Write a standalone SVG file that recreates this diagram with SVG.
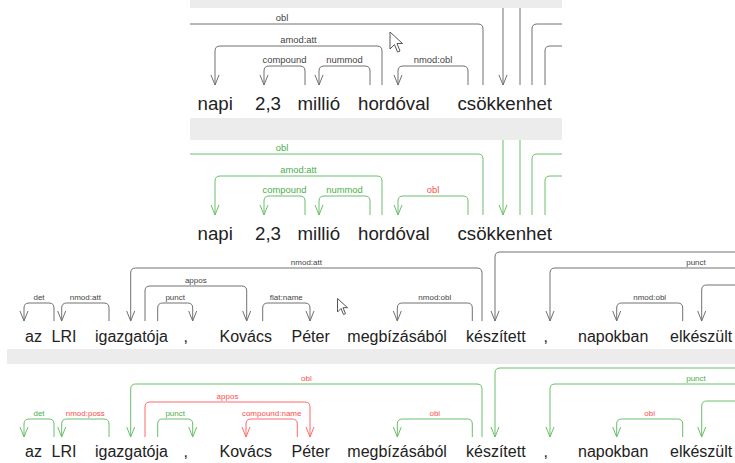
<svg xmlns="http://www.w3.org/2000/svg" width="735" height="463" viewBox="0 0 735 463">
<style>
.bg{fill:#ececec}
.w1{font-family:"Liberation Sans",Arial,sans-serif;font-size:18.7px;fill:#222}
.w2{font-family:"Liberation Sans",Arial,sans-serif;font-size:16px;fill:#222}
.l1{font-family:"Liberation Sans",Arial,sans-serif;font-size:9.4px;text-anchor:middle}
.l2{font-family:"Liberation Sans",Arial,sans-serif;font-size:8px;text-anchor:middle}
.lg{fill:#444}.lgr{fill:#4cae4c}.lr{fill:#ff4d4d}
path.a{fill:none;stroke-width:1}
.g{stroke:#707070}.gr{stroke:#6abf69}.r{stroke:#ff6b6b}
.g.m{marker-end:url(#mg)}.gr.m{marker-end:url(#mgr)}.r.m{marker-end:url(#mr)}
</style>
<defs>
<marker id="mg" viewBox="-11 -5 12 10" refX="0" refY="0" markerWidth="12" markerHeight="10" markerUnits="userSpaceOnUse" orient="auto" overflow="visible"><path d="M-10,-4 L0,0 L-10,4" fill="none" stroke="#707070"/></marker>
<marker id="mgr" viewBox="-11 -5 12 10" refX="0" refY="0" markerWidth="12" markerHeight="10" markerUnits="userSpaceOnUse" orient="auto" overflow="visible"><path d="M-10,-4 L0,0 L-10,4" fill="none" stroke="#6abf69"/></marker>
<marker id="mr" viewBox="-11 -5 12 10" refX="0" refY="0" markerWidth="12" markerHeight="10" markerUnits="userSpaceOnUse" orient="auto" overflow="visible"><path d="M-10,-4 L0,0 L-10,4" fill="none" stroke="#ff6b6b"/></marker>
</defs>
<rect width="735" height="463" fill="#fff"/>
<rect class="bg" x="190" y="0" width="372" height="8"/>
<rect class="bg" x="190" y="118" width="372" height="22"/>
<rect class="bg" x="7" y="349" width="728" height="15"/>

<!-- Panel 1 (top, gray) -->
<g id="p1-words">
<g id="p1-napi"><text class="w1" x="197.5" y="110">napi</text></g>
<g id="p1-23"><text class="w1" x="255" y="110">2,3</text></g>
<g id="p1-millio"><text class="w1" x="297.5" y="110">millió</text></g>
<g id="p1-hordoval"><text class="w1" x="358" y="110">hordóval</text></g>
<g id="p1-csokkenhet"><text class="w1" x="457.5" y="110">csökkenhet</text></g>
</g>
<g id="p1-connectors">
<path class="a g" d="M190,24 H478 Q483,24 483,29 V85"/>
<path class="a g m" d="M382,85 V51 Q382,46 377,46 H220 Q215,46 215,51 V85"/>
<path class="a g m" d="M305,85 V71 Q305,66 300,66 H269 Q264,66 264,71 V85"/>
<path class="a g m" d="M370,85 V71 Q370,66 365,66 H324 Q319,66 319,71 V85"/>
<path class="a g m" d="M468,85 V71 Q468,66 463,66 H403 Q398,66 398,71 V85"/>
<path class="a g m" d="M503,8 V85"/>
<path class="a g" d="M520,8 V85"/>
<path class="a g" d="M532,85 V29 Q532,24 537,24 H562"/>
<path class="a g" d="M545,85 V51 Q545,46 550,46 H562"/>
<text class="l1 lg" x="282" y="20.5">obl</text>
<text class="l1 lg" x="298.5" y="42.5">amod:att</text>
<text class="l1 lg" x="284.5" y="62.5">compound</text>
<text class="l1 lg" x="344.5" y="62.5">nummod</text>
<text class="l1 lg" x="433" y="62.5">nmod:obl</text>
</g>

<!-- Panel 2 (top, green) -->
<g id="p2-words">
<g id="p2-napi"><text class="w1" x="197.5" y="240">napi</text></g>
<g id="p2-23"><text class="w1" x="255" y="240">2,3</text></g>
<g id="p2-millio"><text class="w1" x="297.5" y="240">millió</text></g>
<g id="p2-hordoval"><text class="w1" x="358" y="240">hordóval</text></g>
<g id="p2-csokkenhet"><text class="w1" x="457.5" y="240">csökkenhet</text></g>
</g>
<g id="p2-connectors">
<path class="a gr" d="M190,154 H478 Q483,154 483,159 V215"/>
<path class="a gr m" d="M382,215 V181 Q382,176 377,176 H220 Q215,176 215,181 V215"/>
<path class="a gr m" d="M305,215 V201 Q305,196 300,196 H269 Q264,196 264,201 V215"/>
<path class="a gr m" d="M370,215 V201 Q370,196 365,196 H324 Q319,196 319,201 V215"/>
<path class="a gr m" d="M468,215 V201 Q468,196 463,196 H403 Q398,196 398,201 V215"/>
<path class="a gr m" d="M503,140 V215"/>
<path class="a gr" d="M520,140 V215"/>
<path class="a gr" d="M532,215 V159 Q532,154 537,154 H562"/>
<path class="a gr" d="M545,215 V181 Q545,176 550,176 H562"/>
<text class="l1 lgr" x="282" y="150.5">obl</text>
<text class="l1 lgr" x="298.5" y="172.5">amod:att</text>
<text class="l1 lgr" x="284.5" y="192.5">compound</text>
<text class="l1 lgr" x="344.5" y="192.5">nummod</text>
<text class="l1 lr" x="433" y="192.5">obl</text>
</g>

<!-- Panel 3 (bottom, gray) -->
<g id="p3-words">
<g id="p3-az"><text class="w2" x="25" y="342">az</text></g>
<g id="p3-LRI"><text class="w2" x="51.5" y="342">LRI</text></g>
<g id="p3-igazgatoja"><text class="w2" x="95" y="342">igazgatója</text></g>
<g id="p3-comma1"><text class="w2" x="183.5" y="342">,</text></g>
<g id="p3-Kovacs"><text class="w2" x="219.5" y="342">Kovács</text></g>
<g id="p3-Peter"><text class="w2" x="291.5" y="342">Péter</text></g>
<g id="p3-megbizasabol"><text class="w2" x="347.3" y="342">megbízásából</text></g>
<g id="p3-keszitett"><text class="w2" x="466" y="342">készített</text></g>
<g id="p3-comma2"><text class="w2" x="543.5" y="342">,</text></g>
<g id="p3-napokban"><text class="w2" x="578" y="342">napokban</text></g>
<g id="p3-elkeszult"><text class="w2" x="670" y="342">elkészült</text></g>
</g>
<g id="p3-connectors">
<path class="a g m" d="M54,321 V308 Q54,303 49,303 H29 Q24,303 24,308 V321"/>
<path class="a g m" d="M109,321 V308 Q109,303 104,303 H66.7 Q61.7,303 61.7,308 V321"/>
<path class="a g m" d="M482,321 V273 Q482,268 477,268 H135.7 Q130.7,268 130.7,273 V321"/>
<path class="a g m" d="M145,321 V291 Q145,286 150,286 H241.7 Q246.7,286 246.7,291 V321"/>
<path class="a g m" d="M157.7,321 V308 Q157.7,303 162.7,303 H187.7 Q192.7,303 192.7,308 V321"/>
<path class="a g m" d="M262.7,321 V308 Q262.7,303 267.7,303 H305 Q310,303 310,308 V321"/>
<path class="a g m" d="M472.3,321 V308 Q472.3,303 467.3,303 H402.3 Q397.3,303 397.3,308 V321"/>
<path class="a g m" d="M735,252 H500 Q495,252 495,257 V321"/>
<path class="a g m" d="M735,268 H555 Q550,268 550,273 V321"/>
<path class="a g m" d="M735,285 H706.7 Q701.7,285 701.7,290 V321"/>
<path class="a g m" d="M682.7,321 V308 Q682.7,303 677.7,303 H621.7 Q616.7,303 616.7,308 V321"/>
<text class="l2 lg" x="39" y="300">det</text>
<text class="l2 lg" x="85.3" y="300">nmod:att</text>
<text class="l2 lg" x="306.4" y="265">nmod:att</text>
<text class="l2 lg" x="195.8" y="283">appos</text>
<text class="l2 lg" x="175.2" y="300">punct</text>
<text class="l2 lg" x="286.3" y="300">flat:name</text>
<text class="l2 lg" x="434.8" y="300">nmod:obl</text>
<text class="l2 lg" x="696" y="265">punct</text>
<text class="l2 lg" x="649.7" y="300">nmod:obl</text>
</g>

<!-- Panel 4 (bottom, green) -->
<g id="p4-words">
<g id="p4-az"><text class="w2" x="25" y="457">az</text></g>
<g id="p4-LRI"><text class="w2" x="51.5" y="457">LRI</text></g>
<g id="p4-igazgatoja"><text class="w2" x="95" y="457">igazgatója</text></g>
<g id="p4-comma1"><text class="w2" x="183.5" y="457">,</text></g>
<g id="p4-Kovacs"><text class="w2" x="219.5" y="457">Kovács</text></g>
<g id="p4-Peter"><text class="w2" x="291.5" y="457">Péter</text></g>
<g id="p4-megbizasabol"><text class="w2" x="347.3" y="457">megbízásából</text></g>
<g id="p4-keszitett"><text class="w2" x="466" y="457">készített</text></g>
<g id="p4-comma2"><text class="w2" x="543.5" y="457">,</text></g>
<g id="p4-napokban"><text class="w2" x="578" y="457">napokban</text></g>
<g id="p4-elkeszult"><text class="w2" x="670" y="457">elkészült</text></g>
</g>
<g id="p4-connectors">
<path class="a gr m" d="M54,437 V424 Q54,419 49,419 H29 Q24,419 24,424 V437"/>
<path class="a gr m" d="M109,437 V424 Q109,419 104,419 H66.7 Q61.7,419 61.7,424 V437"/>
<path class="a gr m" d="M482,437 V389 Q482,384 477,384 H135.7 Q130.7,384 130.7,389 V437"/>
<path class="a r m" d="M145,437 V407 Q145,402 150,402 H305 Q310,402 310,407 V437"/>
<path class="a gr m" d="M157.7,437 V424 Q157.7,419 162.7,419 H187.7 Q192.7,419 192.7,424 V437"/>
<path class="a r m" d="M297.3,437 V424 Q297.3,419 292.3,419 H251 Q246,419 246,424 V437"/>
<path class="a gr m" d="M472.3,437 V424 Q472.3,419 467.3,419 H402.3 Q397.3,419 397.3,424 V437"/>
<path class="a gr m" d="M735,368 H500 Q495,368 495,373 V437"/>
<path class="a gr m" d="M735,384 H555 Q550,384 550,389 V437"/>
<path class="a gr m" d="M735,401 H706.7 Q701.7,401 701.7,406 V437"/>
<path class="a gr m" d="M682.7,437 V424 Q682.7,419 677.7,419 H621.7 Q616.7,419 616.7,424 V437"/>
<text class="l2 lgr" x="39" y="416">det</text>
<text class="l2 lr" x="85.3" y="416">nmod:poss</text>
<text class="l2 lr" x="306.4" y="381">obl</text>
<text class="l2 lr" x="227.5" y="399">appos</text>
<text class="l2 lgr" x="175.2" y="416">punct</text>
<text class="l2 lr" x="271.7" y="416">compound:name</text>
<text class="l2 lr" x="434.8" y="416">obl</text>
<text class="l2 lgr" x="696" y="381">punct</text>
<text class="l2 lr" x="649.7" y="416">obl</text>
</g>

<!-- mouse cursors -->
<path d="M390,32 V49 L394.5,44.5 L397.5,52 L400,51 L397,43.5 L402.5,43.5 Z" fill="#fff" stroke="#555" stroke-width="1" stroke-linejoin="round"/>
<path d="M337.5,298.5 V312 L341,308.5 L343.5,314.5 L345.5,313.7 L343,307.7 L347.5,307.7 Z" fill="#fff" stroke="#555" stroke-width="1" stroke-linejoin="round"/>
</svg>
